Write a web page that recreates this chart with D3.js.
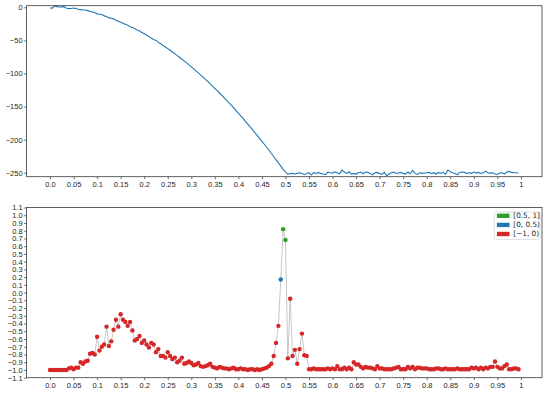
<!DOCTYPE html>
<html>
<head>
<meta charset="utf-8">
<script src="https://cdn.jsdelivr.net/npm/d3@7"></script>
<style>
  body { margin: 0; background: #fff; }
  svg { display: block; font-family: "DejaVu Sans", sans-serif; }
  .tick text { fill: #262626; font-size: 7.5px; }
  .tick line { stroke: #333; stroke-width: 0.7; }
</style>
</head>
<body>
<svg width="550" height="394"></svg>
<script>
// x positions shared by both panels: 0, 0.005, ... 0.995
const xStep = 0.005

// top panel values
const topValues = [
    -1, -1.2, 2.4, 1, 0.4, 0.6, 1, -1.5, -2, -1.8,
    -1, -1.8, -3, -3.5, -4, -4.2, -5, -6, -7, -8,
    -10, -10.5, -11, -13, -14, -16, -16.5, -17.5, -19.5, -21,
    -22.5, -24, -25.5, -27, -29.5, -30.5, -32, -34.5, -36, -38,
    -40, -42, -44, -46.5, -48.5, -50, -53, -55, -57.5, -60,
    -62.5, -65, -67.5, -70, -73, -75.5, -78.5, -81, -84, -87,
    -90, -93, -96, -99, -102.5, -105.5, -109, -112, -115.5, -119,
    -122.5, -126, -129.5, -133, -137, -140.5, -144.5, -148, -152, -156,
    -160, -164, -168, -172.5, -176.5, -180.5, -185, -189.5, -193.5, -198,
    -202.5, -207, -211.5, -216, -221, -225.5, -230.5, -235, -240, -245,
    -249, -252, -251.5, -251, -252, -251, -250, -251, -253, -251,
    -250, -253.5, -250, -251, -249.5, -251, -252, -253, -249, -250,
    -250.5, -248.5, -250, -251.5, -246, -249, -251, -248.5, -252, -251,
    -252, -250, -249, -251.5, -249, -249.5, -251, -253, -250, -249.5,
    -251, -252.5, -249.5, -254.5, -252, -250, -249, -251, -250.5, -249.5,
    -251, -252, -249, -251.5, -246.5, -251, -252.5, -250, -251, -250.5,
    -250, -249.5, -251.5, -250, -252, -249.5, -251, -249, -252.5, -246,
    -248.5, -250, -251, -253, -249.5, -249, -249.5, -251, -250, -251,
    -249, -250.5, -249.5, -251, -250, -247.5, -250, -251, -250, -252,
    -252.5, -250.5, -250, -252, -249, -248, -249.5, -250, -250, -250.5
]

// bottom panel values
const bottomValues = [
    -1, -1, -1, -1, -1, -1, -1, -1, -0.98, -0.97,
    -0.99, -0.97, -0.97, -0.9, -0.92, -0.89, -0.88, -0.79, -0.78, -0.8,
    -0.57, -0.75, -0.7, -0.67, -0.44, -0.69, -0.63, -0.48, -0.35, -0.44,
    -0.28, -0.35, -0.38, -0.43, -0.38, -0.49, -0.62, -0.6, -0.56, -0.65,
    -0.62, -0.67, -0.71, -0.65, -0.67, -0.77, -0.73, -0.82, -0.82, -0.84,
    -0.77, -0.82, -0.86, -0.84, -0.9, -0.88, -0.84, -0.92, -0.91, -0.89,
    -0.91, -0.94, -0.93, -0.91, -0.95, -0.96, -0.95, -0.94, -0.92, -0.96,
    -0.97, -0.98, -0.96, -0.97, -0.98, -0.98, -0.99, -0.98, -0.97, -0.99,
    -0.99, -0.98, -0.99, -0.99, -1, -0.99, -0.99, -1, -0.99, -1,
    -0.99, -0.98, -0.97, -0.95, -0.92, -0.82, -0.65, -0.43, 0.17, 0.82,
    0.68, -0.85, -0.08, -0.82, -0.74, -0.92, -0.73, -0.53, -0.81, -0.82,
    -0.99, -0.99, -0.98, -0.99, -0.99, -0.99, -0.99, -0.99, -0.98, -0.99,
    -0.98, -0.99, -0.95, -0.99, -0.99, -0.97, -0.99, -0.97, -0.99, -0.9,
    -0.93, -0.93, -0.96, -0.98, -0.96, -0.97, -0.97, -0.98, -0.99, -0.95,
    -0.98, -0.98, -0.99, -0.99, -0.99, -0.99, -0.98, -0.97, -0.96, -0.99,
    -0.99, -0.99, -0.96, -0.98, -0.96, -0.99, -0.97, -0.97, -0.98, -0.98,
    -0.98, -0.99, -0.99, -0.99, -0.98, -0.98, -0.99, -0.99, -0.98, -0.99,
    -0.99, -0.99, -0.99, -0.98, -0.99, -0.99, -0.99, -0.99, -0.99, -0.97,
    -0.98, -0.97, -0.99, -0.97, -0.99, -0.97, -0.98, -0.96, -0.96, -0.89,
    -0.96, -0.98, -0.98, -0.95, -0.93, -0.99, -0.99, -0.98, -0.98, -0.99
]

const xTicks = d3.range(0, 21).map(d => d * 0.05)
const xTickLabels = ['0.0', '0.05', '0.1', '0.15', '0.2', '0.25', '0.3', '0.35', '0.4', '0.45',
    '0.5', '0.55', '0.6', '0.65', '0.7', '0.75', '0.8', '0.85', '0.9', '0.95', '1']
const topYTicks = [0, -50, -100, -150, -200, -250]
const bottomYTicks = d3.range(-11, 12).map(d => d / 10)

const bins = [
    {label: '[0.5, 1]', color: '#2ca02c', test: v => v >= 0.5},
    {label: '[0, 0.5)', color: '#1f77b4', test: v => v >= 0 && v < 0.5},
    {label: '[\u22121, 0)', color: '#d62728', test: v => v < 0},
]

const fmtMinus = s => s.replace('-', '\u2212')

let svg = d3.select('svg')

let x = d3.scaleLinear().domain([-0.04975, 1.04475]).range([26.6, 542])

function frame (g, yTop, yBottom) {
    g.append('rect')
    .attr('x', x.range()[0])
    .attr('y', yTop)
    .attr('width', x.range()[1] - x.range()[0])
    .attr('height', yBottom - yTop)
    .attr('fill', 'none')
    .attr('stroke', '#3a3a3a')
    .attr('stroke-width', 0.8)
}

function xAxis (g, yBottom) {
    let ax = g.append('g')
    .attr('transform', `translate(0,${yBottom})`)
    .call(d3.axisBottom(x).tickValues(xTicks).tickSize(2.5).tickPadding(2)
        .tickFormat((d, i) => xTickLabels[i]))
    ax.select('.domain').remove()
}

// ---- top panel ----
let yTopScale = d3.scaleLinear().domain([-256, 2.4]).range([176.7, 5.7])
let topPanel = svg.append('g')

topPanel.append('path')
.datum(topValues)
.attr('fill', 'none')
.attr('stroke', '#1f77b4')
.attr('stroke-width', 1.1)
.attr('d', d3.line().x((d, i) => x(i * xStep)).y(d => yTopScale(d)))

let topY = topPanel.append('g')
.attr('transform', `translate(${x.range()[0]},0)`)
.call(d3.axisLeft(yTopScale).tickValues(topYTicks).tickSize(2.5).tickPadding(1.5)
    .tickFormat(d => fmtMinus(String(d))))
topY.select('.domain').remove()

xAxis(topPanel, 176.7)
frame(topPanel, 5.7, 176.7)

// ---- bottom panel ----
let yBotScale = d3.scaleLinear().domain([-1.1, 1.1]).range([377.7, 207.5])
let botPanel = svg.append('g')

botPanel.append('path')
.datum(bottomValues)
.attr('fill', 'none')
.attr('stroke', '#b8b8b8')
.attr('stroke-width', 0.8)
.attr('d', d3.line().x((d, i) => x(i * xStep)).y(d => yBotScale(d)))

botPanel.selectAll('circle.pt')
.data(bottomValues)
.enter()
.append('circle')
.attr('class', 'pt')
.attr('cx', (d, i) => x(i * xStep))
.attr('cy', d => yBotScale(d))
.attr('r', 2.2)
.attr('fill', d => bins.find(b => b.test(d)).color)

let botY = botPanel.append('g')
.attr('transform', `translate(${x.range()[0]},0)`)
.call(d3.axisLeft(yBotScale).tickValues(bottomYTicks).tickSize(2.5).tickPadding(1.5)
    .tickFormat(d => fmtMinus(d3.format('.1f')(d))))
botY.select('.domain').remove()

xAxis(botPanel, 377.7)
frame(botPanel, 207.5, 377.7)

// legend
let legend = botPanel.append('g').attr('transform', 'translate(494.3,212)')
legend.append('rect')
.attr('width', 45.7)
.attr('height', 27.3)
.attr('rx', 1.5)
.attr('fill', 'white')
.attr('fill-opacity', 0.8)
.attr('stroke', '#d0d0d0')
.attr('stroke-width', 0.7)

legend.selectAll('rect.patch')
.data(bins)
.enter()
.append('rect')
.attr('class', 'patch')
.attr('x', 2.6)
.attr('y', (d, i) => 1.6 + 9.1 * i)
.attr('width', 12.6)
.attr('height', 4.4)
.attr('fill', d => d.color)

legend.selectAll('text.lbl')
.data(bins)
.enter()
.append('text')
.attr('class', 'lbl')
.attr('x', 19)
.attr('y', (d, i) => 3.8 + 9.1 * i)
.attr('dominant-baseline', 'middle')
.style('font-size', '7.3px')
.style('fill', '#262626')
.text(d => d.label)
</script>
</body>
</html>
